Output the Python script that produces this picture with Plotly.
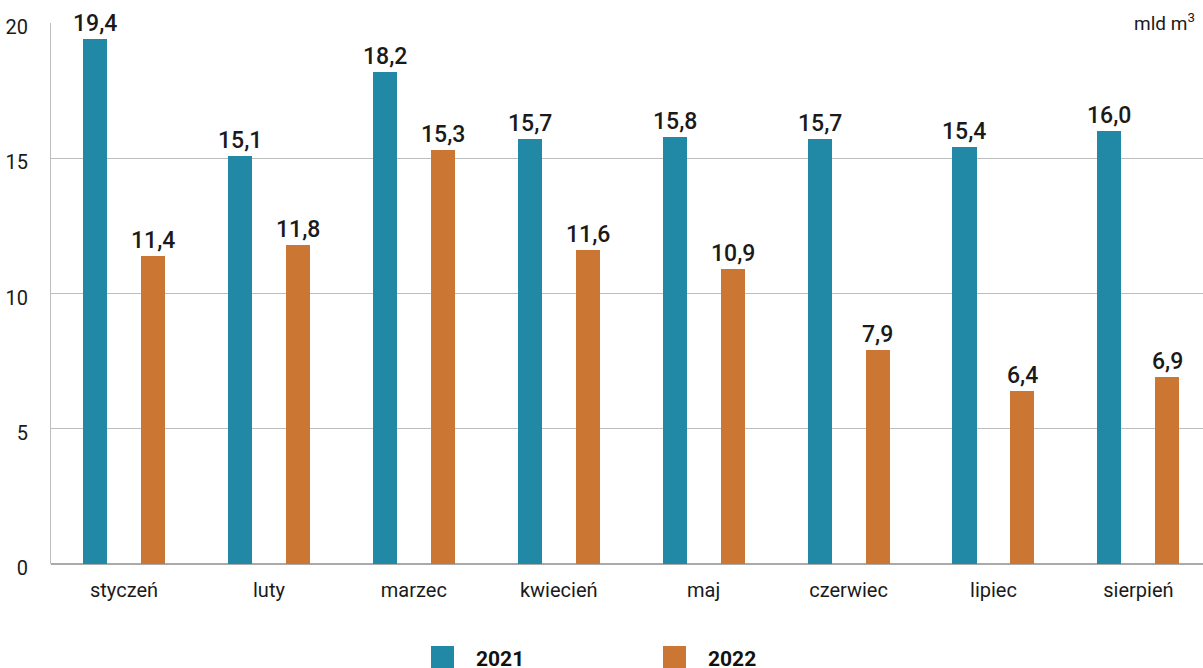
import plotly.graph_objects as go

# Monthly values, billion m³
months = ["styczeń", "luty", "marzec", "kwiecień", "maj", "czerwiec", "lipiec", "sierpień"]
values_2021 = [19.4, 15.1, 18.2, 15.7, 15.8, 15.7, 15.4, 16.0]
values_2022 = [11.4, 11.8, 15.3, 11.6, 10.9, 7.9, 6.4, 6.9]
series_names = ["2021", "2022"]
y_ticks = [0, 5, 10, 15, 20]

BLUE = "#2188a6"
ORANGE = "#cc7633"
TEXT = "#1a1a1a"
GRID = "#bdbdbd"
FONT = "Roboto"

BAR_W = 0.166
OFFSETS = [-0.283, 0.117]

fig = go.Figure()
for name, vals, color, off in zip(series_names, [values_2021, values_2022], [BLUE, ORANGE], OFFSETS):
    fig.add_trace(go.Bar(
        x=months, y=vals, name=name, marker_color=color, marker_line_width=0,
        width=BAR_W, offset=off, showlegend=False,
    ))

# value labels above each bar
for vals, off in zip([values_2021, values_2022], OFFSETS):
    for i, v in enumerate(vals):
        fig.add_annotation(
            x=i + off + BAR_W / 2, y=v, xref="x", yref="y",
            text=f"{v:.1f}".replace(".", ","), showarrow=False,
            yanchor="bottom", yshift=1, bgcolor="white", borderpad=0,
            font=dict(family=FONT, size=23, color=TEXT, weight=500),
        )

# unit label in the top-right corner
fig.add_annotation(
    x=1, y=1, xref="paper", yref="paper", xanchor="right", yanchor="middle",
    xshift=-4, yshift=1, text="mld m<sup>3</sup>", showarrow=False, bgcolor="white",
    borderpad=3, font=dict(family=FONT, size=19, color=TEXT),
)

# legend swatches and labels below the plot
PLOT_L, PLOT_W, PLOT_B, PLOT_H = 51, 1152, 564, 541
def px_x(p):
    return (p - PLOT_L) / PLOT_W
def px_y(p):
    return (PLOT_B - p) / PLOT_H

for name, color, sq_left in zip(series_names, [BLUE, ORANGE], [431, 663]):
    fig.add_shape(
        type="rect", xref="paper", yref="paper",
        x0=px_x(sq_left), x1=px_x(sq_left + 23), y0=px_y(646), y1=px_y(670),
        fillcolor=color, line_width=0,
    )
    fig.add_annotation(
        x=px_x(sq_left + 43), y=px_y(659), xref="paper", yref="paper",
        xanchor="left", yanchor="middle", text=name, showarrow=False,
        font=dict(family=FONT, size=21, color="#111111", weight=700),
    )

fig.update_layout(
    width=1203, height=668,
    margin=dict(l=PLOT_L, r=0, t=23, b=668 - PLOT_B, pad=0),
    paper_bgcolor="white", plot_bgcolor="white",
    font=dict(family=FONT, color=TEXT),
    bargap=0,
)
fig.update_xaxes(
    type="category", range=[-0.504, 7.446], showgrid=False,
    showline=False, ticks="", ticklabelstandoff=12,
    tickfont=dict(family=FONT, size=20, color=TEXT),
)
fig.update_yaxes(
    range=[0, 20], tickvals=y_ticks, showgrid=True, gridcolor=GRID, gridwidth=1,
    zeroline=True, zerolinecolor="#aaaaaa", zerolinewidth=2,
    showline=True, linecolor=GRID, linewidth=1, ticks="",
    ticklabelstandoff=18, ticklabelshift=4,
    tickfont=dict(family=FONT, size=20, color=TEXT),
)

fig.write_html("out.html")
